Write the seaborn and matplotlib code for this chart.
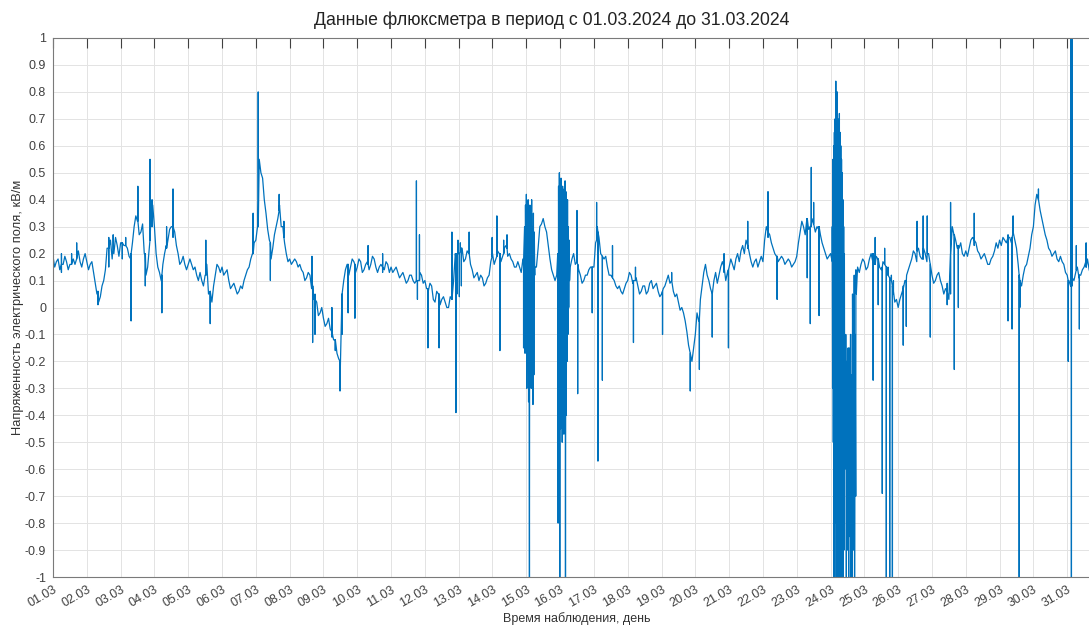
import numpy as np
import pandas as pd
import matplotlib
matplotlib.use('Agg')
import matplotlib.pyplot as plt
import seaborn as sns

# field strength, kV/m at 10 points per day (01.03 = day 0)
week1 = [0.19, 0.17, 0.14, 0.16, 0.17, 0.16, 0.18, 0.19, 0.17, 0.18,
         0.17, 0.16, 0.13, 0.05, 0.04, 0.10, 0.22, 0.25, 0.20, 0.23,
         0.24, 0.23, 0.22, 0.18, 0.30, 0.32, 0.28, 0.20, 0.15, 0.35,
         0.30, 0.15, 0.10, 0.20, 0.25, 0.30, 0.28, 0.20, 0.17, 0.16,
         0.16, 0.16, 0.15, 0.10, 0.10, 0.12, 0.05, 0.02, 0.12, 0.15,
         0.15, 0.13, 0.10, 0.08, 0.07, 0.06, 0.07, 0.12, 0.15, 0.20,
         0.25, 0.55, 0.48, 0.35, 0.25, 0.22, 0.30, 0.38, 0.30, 0.20]
week2 = [0.18, 0.17, 0.17, 0.16, 0.13, 0.11, 0.12, 0.03, 0.02, -0.02,
         -0.04, -0.06, -0.08, -0.12, -0.17, -0.22, 0.10, 0.16, 0.15, 0.17,
         0.15, 0.17, 0.14, 0.17, 0.16, 0.18, 0.13, 0.16, 0.14, 0.16,
         0.15, 0.14, 0.13, 0.12, 0.11, 0.10, 0.12, 0.09, 0.10, 0.12,
         0.10, 0.06, 0.08, 0.02, 0.05, 0.03, 0.02, 0.00, 0.03, 0.20,
         0.20, 0.22, 0.18, 0.20, 0.14, 0.12, 0.10, 0.11, 0.09, 0.12,
         0.20, 0.18, 0.20, 0.19, 0.23, 0.20, 0.17, 0.15, 0.15, 0.18]
week3 = [0.20, 0.18, 0.15, 0.15, 0.30, 0.33, 0.28, 0.18, 0.12, 0.12,
         0.15, 0.10, 0.12, 0.15, 0.20, 0.17, 0.12, 0.10, 0.12, 0.15,
         0.15, 0.30, 0.20, 0.18, 0.15, 0.12, 0.10, 0.07, 0.06, 0.07,
         0.10, 0.12, 0.10, 0.08, 0.06, 0.08, 0.06, 0.10, 0.08, 0.06,
         0.05, 0.08, 0.12, 0.10, 0.04, 0.02, 0.00, -0.05, -0.14, -0.20,
         -0.10, -0.05, 0.08, 0.16, 0.10, 0.05, 0.13, 0.12, 0.17, 0.10,
         0.15, 0.16, 0.18, 0.17, 0.23, 0.25, 0.20, 0.15, 0.18, 0.17]
week4 = [0.17, 0.30, 0.27, 0.22, 0.19, 0.18, 0.18, 0.17, 0.17, 0.16,
         0.19, 0.28, 0.30, 0.33, 0.30, 0.31, 0.30, 0.27, 0.22, 0.18,
         0.20, 0.15, 0.10, 0.10, -0.10, -0.30, -0.10, 0.12, 0.15, 0.16,
         0.17, 0.15, 0.20, 0.16, 0.18, 0.14, 0.16, 0.12, 0.10, 0.02,
         0.00, 0.05, 0.10, 0.14, 0.18, 0.20, 0.22, 0.18, 0.20, 0.20,
         0.12, 0.10, 0.13, 0.08, 0.07, 0.03, 0.30, 0.25, 0.22, 0.20,
         0.21, 0.22, 0.26, 0.24, 0.20, 0.19, 0.18, 0.16, 0.19, 0.24]
week5 = [0.25, 0.26, 0.24, 0.26, 0.28, 0.22, 0.10, 0.12, 0.16, 0.22,
         0.30, 0.42, 0.36, 0.30, 0.25, 0.21, 0.20, 0.18, 0.19, 0.16,
         0.12, 0.08, 0.10, 0.15, 0.12, 0.15, 0.18, 0.12, 0.14, 0.13]

# readings half way between the ones above (the jitter of the trace)
week1_mid = [0.15, 0.18, 0.13, 0.19, 0.14, 0.19, 0.16, 0.21, 0.15, 0.20,
             0.14, 0.17, 0.09, 0.02, 0.08, 0.14, 0.26, 0.18, 0.26, 0.19,
             0.21, 0.26, 0.19, 0.24, 0.34, 0.27, 0.31, 0.12, 0.22, 0.38,
             0.20, 0.13, 0.16, 0.23, 0.29, 0.26, 0.23, 0.16, 0.19, 0.14,
             0.18, 0.14, 0.12, 0.13, 0.08, 0.16, 0.01, 0.08, 0.16, 0.13,
             0.12, 0.14, 0.07, 0.09, 0.05, 0.08, 0.10, 0.14, 0.18, 0.24,
             0.30, 0.50, 0.40, 0.29, 0.18, 0.27, 0.33, 0.30, 0.24, 0.17]
week2_mid = [0.16, 0.18, 0.15, 0.14, 0.10, 0.13, 0.07, 0.05, -0.03, 0.00,
             -0.07, -0.04, -0.11, -0.13, -0.19, -0.10, 0.14, 0.12, 0.18, 0.13,
             0.18, 0.13, 0.16, 0.14, 0.19, 0.15, 0.15, 0.13, 0.17, 0.13,
             0.13, 0.15, 0.11, 0.13, 0.09, 0.12, 0.10, 0.11, 0.13, 0.09,
             0.07, 0.09, 0.03, 0.06, 0.01, 0.04, 0.00, 0.04, 0.10, 0.17,
             0.24, 0.17, 0.21, 0.16, 0.11, 0.13, 0.12, 0.08, 0.11, 0.17,
             0.16, 0.21, 0.17, 0.22, 0.19, 0.18, 0.15, 0.17, 0.13, 0.21]
week3_mid = [0.16, 0.21, 0.12, 0.22, 0.31, 0.30, 0.23, 0.14, 0.10, 0.14,
             0.12, 0.13, 0.10, 0.18, 0.16, 0.14, 0.09, 0.12, 0.14, 0.12,
             0.24, 0.26, 0.16, 0.19, 0.12, 0.13, 0.08, 0.08, 0.05, 0.09,
             0.13, 0.09, 0.11, 0.05, 0.08, 0.05, 0.09, 0.07, 0.09, 0.04,
             0.07, 0.10, 0.09, 0.06, 0.05, -0.01, -0.02, -0.09, -0.17, -0.15,
             -0.02, 0.03, 0.13, 0.12, 0.07, 0.10, 0.09, 0.15, 0.13, 0.13,
             0.18, 0.14, 0.20, 0.21, 0.20, 0.22, 0.17, 0.17, 0.15, 0.19]
week4_mid = [0.25, 0.26, 0.24, 0.20, 0.17, 0.19, 0.16, 0.18, 0.15, 0.17,
             0.24, 0.32, 0.27, 0.29, 0.33, 0.28, 0.29, 0.24, 0.20, 0.19,
             0.17, 0.12, 0.14, 0.00, -0.20, -0.15, 0.05, 0.14, 0.13, 0.18,
             0.14, 0.18, 0.17, 0.19, 0.15, 0.17, 0.13, 0.10, 0.05, 0.03,
             0.03, 0.08, 0.12, 0.16, 0.21, 0.17, 0.19, 0.22, 0.17, 0.15,
             0.09, 0.12, 0.10, 0.05, 0.09, 0.05, 0.27, 0.22, 0.24, 0.19,
             0.19, 0.25, 0.23, 0.21, 0.18, 0.20, 0.16, 0.18, 0.21, 0.22]
week5_mid = [0.23, 0.25, 0.27, 0.24, 0.25, 0.16, 0.08, 0.15, 0.19, 0.27,
             0.38, 0.40, 0.33, 0.27, 0.22, 0.19, 0.21, 0.17, 0.17, 0.13,
             0.10, 0.11, 0.13, 0.11, 0.14, 0.17, 0.14, 0.16, 0.12, 0.14]

# narrow spikes: day, peak value, background level around the spike
spike_t = [0.25, 0.55, 0.70, 1.33, 1.65, 1.78, 2.05, 2.15, 2.31, 2.51, 2.73, 2.87, 2.93,
           3.22, 3.36, 3.55, 4.52, 4.65, 5.92, 6.07, 6.43, 6.69, 6.83,
           7.66, 7.68, 7.75, 8.25, 8.35, 8.49, 8.55, 8.73, 8.93, 9.32, 9.75,
           10.75, 10.78, 10.84, 11.09, 11.42, 11.80, 11.92, 11.95, 11.98, 12.02, 12.05,
           12.08, 12.31, 12.99, 13.13, 13.22, 13.33, 13.43, 13.92,
           15.50, 15.52, 15.95, 16.08, 16.12, 16.25, 16.55, 17.17, 17.23, 18.03, 18.30,
           18.85, 19.12, 19.50, 19.85, 19.98, 20.55,
           21.15, 21.42, 22.31, 22.40, 22.43, 22.50, 22.66,
           24.26, 24.32, 24.41, 24.53, 24.60, 24.65, 24.70, 24.75, 24.80, 24.83, 24.86,
           25.15, 25.24, 25.56, 25.74, 25.86, 25.95, 26.45, 26.55, 26.66, 26.78, 27.25,
           28.25, 28.37, 28.40, 28.58, 28.60, 29.15, 30.03, 30.11, 30.125, 30.14,
           30.27, 30.36, 30.56]
spike_v = [0.20, 0.20, 0.24, 0.01, 0.15, 0.27, 0.18, 0.26, -0.05, 0.45, 0.08, 0.55, 0.40,
           -0.02, 0.30, 0.44, 0.25, -0.06, 0.35, 0.80, 0.10, 0.42, 0.32,
           0.19, -0.13, -0.10, 0.00, -0.16, -0.31, -0.03, -0.02, -0.04, 0.23, 0.20,
           0.47, 0.03, 0.27, -0.15, -0.15, 0.28, -0.39, 0.05, 0.25, 0.04, 0.24,
           0.08, 0.28, 0.26, 0.34, -0.16, 0.25, 0.27, -0.15,
           0.36, -0.32, -0.02, 0.39, -0.57, -0.27, 0.23, -0.13, 0.15, -0.10, 0.13,
           -0.31, -0.23, -0.11, 0.20, -0.15, 0.32,
           0.43, 0.03, 0.11, -0.06, 0.52, 0.39, -0.03,
           -0.27, 0.26, 0.01, -0.69, 0.22, -1.00, 0.15, -1.00, 0.12, -1.00, 0.10,
           -0.14, -0.07, 0.32, 0.34, 0.34, -0.11, 0.01, 0.39, -0.23, 0.00, 0.35,
           -0.05, -0.08, 0.34, -1.00, 0.00, 0.44, -0.20, 1.00, -1.00, 1.00,
           0.23, -0.08, 0.24]
spike_lvl = [0.16, 0.16, 0.18, 0.06, 0.22, 0.23, 0.24, 0.23, 0.20, 0.32, 0.20, 0.25, 0.30,
             0.12, 0.22, 0.30, 0.12, 0.06, 0.20, 0.30, 0.24, 0.36, 0.26,
             0.10, 0.08, 0.03, -0.09, -0.12, -0.20, 0.05, 0.16, 0.16, 0.16, 0.15,
             0.10, 0.10, 0.10, 0.07, 0.05, 0.03, 0.18, 0.20, 0.20, 0.20, 0.21,
             0.22, 0.20, 0.19, 0.19, 0.20, 0.20, 0.22, 0.18,
             0.17, 0.16, 0.15, 0.25, 0.28, 0.19, 0.11, 0.10, 0.10, 0.06, 0.10,
             -0.17, -0.04, 0.05, 0.15, 0.14, 0.23,
             0.28, 0.19, 0.33, 0.30, 0.30, 0.31, 0.30,
             0.20, 0.16, 0.18, 0.15, 0.16, 0.15, 0.12, 0.11, 0.10, 0.08, 0.06,
             0.07, 0.10, 0.21, 0.18, 0.20, 0.16, 0.06, 0.20, 0.27, 0.23, 0.25,
             0.26, 0.26, 0.28, 0.12, 0.10, 0.40, 0.10, 0.08, 0.08, 0.08,
             0.14, 0.12, 0.15]

# fast oscillation bursts (start day, end day, readings)
burst15 = [0.30, -0.17, 0.38, 0.10, 0.42, -0.30, 0.35, -0.05, 0.40, -0.35, 0.33, -1.00,
           0.38, -0.20, 0.36, -0.30, 0.40, -0.10, 0.30, -0.36, 0.35, -0.25, 0.28, 0.15]
burst16 = [0.20, -0.80, 0.45, -0.30, 0.50, -1.00, 0.42, -0.45, 0.48, -0.35, 0.40, -0.50,
           0.45, -0.40, 0.38, -0.47, 0.44, -0.30, 0.47, -1.00, 0.43, -0.40, 0.35, -0.20,
           0.40, -0.10, 0.30, 0.00, 0.25, 0.10]
burst24 = [0.30, -0.30, 0.55, -0.50, 0.60, -1.00, 0.65, -0.60, 0.70, -0.80, 0.84, -1.00,
           0.75, -0.70, 0.80, -1.00, 0.70, -0.90, 0.68, -1.00, 0.72, -0.85, 0.65, -1.00,
           0.60, -0.95, 0.55, -1.00, 0.50, -0.80, 0.40, -1.00, 0.30, -0.90, 0.20, -0.60]
tail24 = [-0.10, -1.00, -0.20, -0.90, -0.15, -1.00, -0.30, -0.85, -0.10, -1.00,
          -0.25, -1.00, -0.20, -0.90, -0.30, -1.00, -0.10, -0.70, 0.05, 0.10]
bursts = [(13.95, 14.25, burst15), (14.93, 15.28, burst16),
          (23.05, 23.42, burst24), (23.45, 23.78, tail24)]

day_labels = [f'{d:02d}.03' for d in range(1, 32)]
y_ticks = [round(-1 + 0.1 * i, 1) for i in range(21)]

base = week1 + week2 + week3 + week4 + week5
mid = week1_mid + week2_mid + week3_mid + week4_mid + week5_mid
half = 0.0015  # half width of a spike, days
t_base = np.arange(len(base)) / 10
t_all = [t_base, t_base + 0.05,
         np.array(spike_t) - half, np.array(spike_t), np.array(spike_t) + half]
v_all = [np.array(base), np.array(mid),
         np.array(spike_lvl), np.array(spike_v), np.array(spike_lvl)]
for start, end, vals in bursts:
    t_all.append(np.linspace(start, end, len(vals)))
    v_all.append(np.array(vals))
df = pd.DataFrame({'day': np.concatenate(t_all), 'field': np.concatenate(v_all)})
df = df.sort_values('day', kind='mergesort').reset_index(drop=True)

sns.set_style('white')
plt.rcParams['font.family'] = ['Liberation Sans', 'DejaVu Sans']

fig = plt.figure(figsize=(10.89, 6.25), dpi=100)
ax = fig.add_axes([53 / 1089, 48 / 625, 1048 / 1089, 539 / 625])
sns.lineplot(data=df, x='day', y='field', estimator=None, sort=False,
             color='#0072BD', linewidth=0.9, ax=ax)

ax.set_xlim(0, 31)
ax.set_ylim(-1, 1)
ax.set_xticks(range(31))
ax.set_xticklabels(day_labels, rotation=30, ha='right', rotation_mode='anchor')
ax.set_yticks(y_ticks)
ax.set_yticklabels(['0' if v == 0 else f'{v:g}' for v in y_ticks])
ax.grid(True, color='#e3e3e3', linewidth=0.7)
ax.set_axisbelow(True)
ax.tick_params(direction='in', length=7, width=0.8, top=True, right=True,
               labelsize=9, colors='#404040', pad=5)
for s in ax.spines.values():
    s.set_color('#7a7a7a')
    s.set_linewidth(0.8)
ax.set_xlabel('')
ax.set_ylabel('')

fig.text(552 / 1089, 1 - 20 / 625, 'Данные флюксметра в период с 01.03.2024 до 31.03.2024',
         ha='center', va='center', fontsize=12.7, color='#222222')
fig.text(577 / 1089, 1 - 619 / 625, 'Время наблюдения, день',
         ha='center', va='center', fontsize=9, color='#333333')
fig.text(18 / 1089, 1 - 307 / 625, 'Напряженность электрического поля, кВ/м',
         ha='center', va='center', rotation=90, fontsize=9.3, color='#333333')

plt.savefig('out.png', dpi=100)
